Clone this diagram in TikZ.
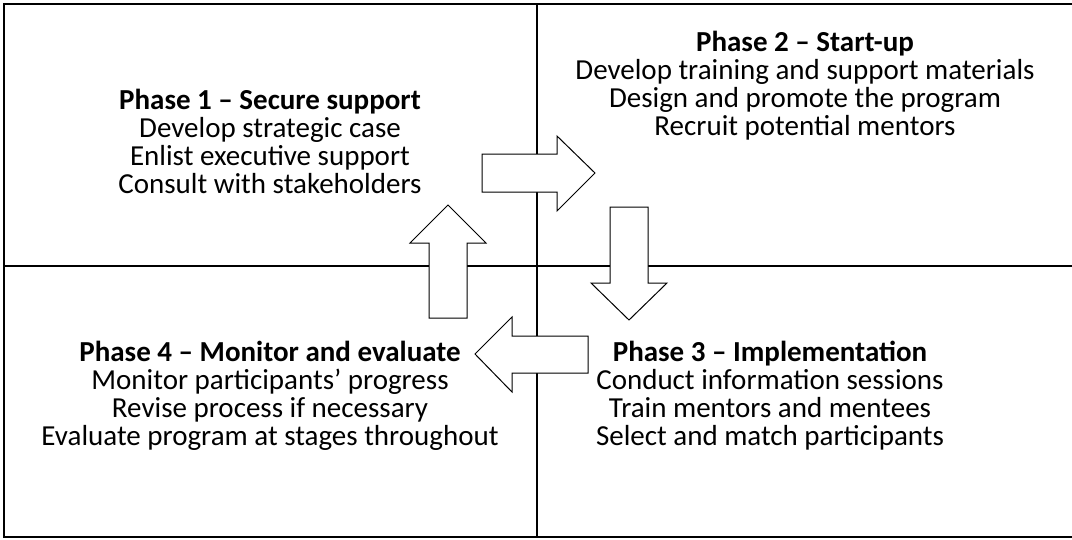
\documentclass[tikz,border=0pt]{standalone}
\usepackage{fontspec}
\setmainfont{Carlito}
\usepackage{tikz}
\usetikzlibrary{positioning}

\tikzset{
  grid/.style={line width=1.2pt, black},
  blockarrow/.style={draw, fill=white, line width=1pt, line join=miter},
  phase/.style={align=center, inner sep=0pt, anchor=north, font=\fontsize{29}{28}\selectfont}
}

\begin{document}
\begin{tikzpicture}[x=1pt, y=-1pt]
				\useasboundingbox (0,0) rectangle (1072,539);
				
				% table lines
				\draw[grid] (1072,4) -- (4,4) -- (4,537) -- (1072,537);
				\draw[grid] (4,266) -- (1072,266);
				\draw[grid] (537,4) -- (537,537);
				
				% phases
				\node[phase] (P1) at (270,89) {\textbf{Phase 1 – Secure support}\\Develop strategic case\\Enlist executive support\\Consult with stakeholders};
				\node[phase] (P2) at (805,31) {\textbf{Phase 2 – Start-up}\\Develop training and support materials\\Design and promote the program\\Recruit potential mentors};
				\node[phase] (P3) at (770,341) {\textbf{Phase 3 – Implementation}\\Conduct information sessions\\Train mentors and mentees\\Select and match participants};
				\node[phase] (P4) at (270,341) {\textbf{Phase 4 – Monitor and evaluate}\\Monitor participants’ progress\\Revise process if necessary\\Evaluate program at stages throughout};
				
				% arrows between phases
				\draw[blockarrow] (482,154) -- (557,154) -- (557,136) -- (595,173) -- (557,211) -- (557,192) -- (482,192) -- cycle;
				\draw[blockarrow] (610,207) -- (648,207) -- (648,283) -- (667,283) -- (629,320) -- (591,283) -- (610,283) -- cycle;
				\draw[blockarrow] (588,336) -- (512,336) -- (512,317) -- (475,354) -- (512,392) -- (512,373) -- (588,373) -- cycle;
				\draw[blockarrow] (429,318) -- (429,243) -- (410,243) -- (448,205) -- (486,243) -- (467,243) -- (467,318) -- cycle;
			\end{tikzpicture}
\end{document}
